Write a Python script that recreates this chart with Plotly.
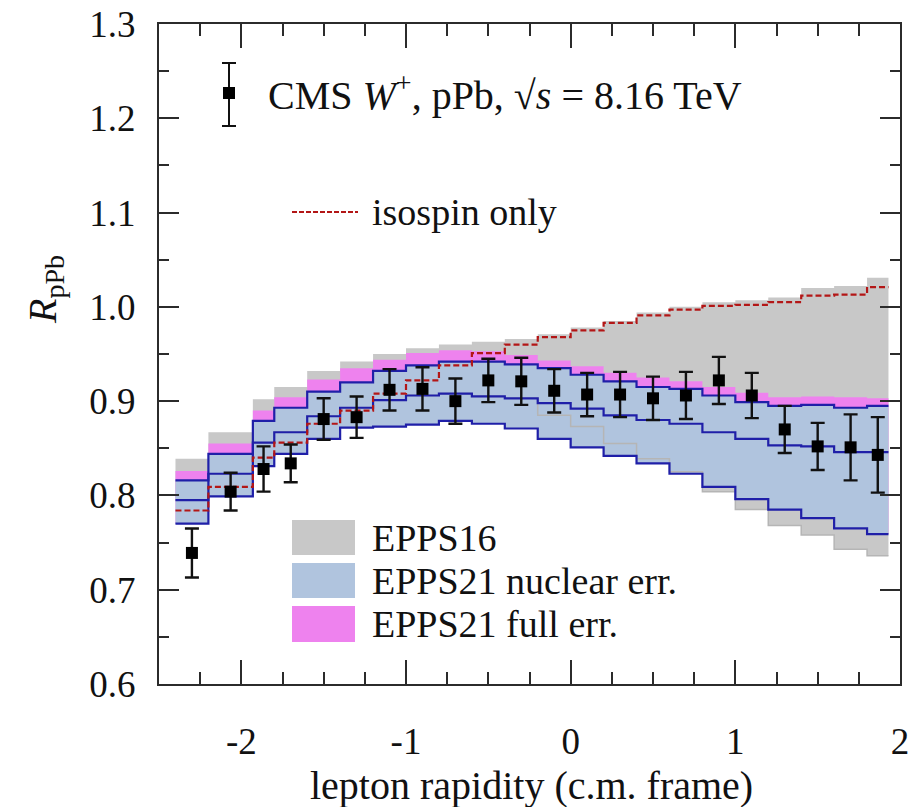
import plotly.graph_objects as go

# ---------------- data ----------------
edges = [-2.4, -2.2, -1.93, -1.8, -1.6, -1.4, -1.2, -1.0, -0.8, -0.6, -0.4, -0.2,
         0.0, 0.2, 0.4, 0.6, 0.8, 1.0, 1.2, 1.4, 1.6, 1.8, 1.93]

cms_x = [-2.3, -2.065, -1.865, -1.7, -1.5, -1.3, -1.1, -0.9, -0.7, -0.5, -0.3, -0.1,
         0.1, 0.3, 0.5, 0.7, 0.9, 1.1, 1.3, 1.5, 1.7, 1.865]
cms_y = [0.739, 0.804, 0.828, 0.834, 0.881, 0.883, 0.912, 0.913, 0.900, 0.922, 0.921, 0.911,
         0.907, 0.907, 0.903, 0.906, 0.922, 0.906, 0.870, 0.852, 0.851, 0.843]
cms_err = [0.026, 0.020, 0.024, 0.020, 0.022, 0.022, 0.022, 0.023, 0.024, 0.023, 0.025, 0.023,
           0.023, 0.024, 0.023, 0.025, 0.025, 0.024, 0.025, 0.025, 0.035, 0.040]

isospin = [0.784, 0.809, 0.840, 0.856, 0.876, 0.890, 0.908, 0.922, 0.938, 0.951, 0.960, 0.968,
           0.975, 0.983, 0.991, 0.997, 1.001, 1.002, 1.005, 1.012, 1.013, 1.021]

epps21_up = [0.816, 0.844, 0.879, 0.893, 0.910, 0.920, 0.932, 0.938, 0.942, 0.942, 0.939, 0.935,
             0.928, 0.921, 0.915, 0.913, 0.906, 0.899, 0.895, 0.896, 0.893, 0.895]
epps21_mid = [0.795, 0.823, 0.856, 0.867, 0.884, 0.893, 0.901, 0.906, 0.908, 0.905, 0.903, 0.898,
              0.892, 0.885, 0.880, 0.876, 0.867, 0.860, 0.853, 0.852, 0.846, 0.846]
epps21_lo = [0.770, 0.799, 0.831, 0.844, 0.860, 0.872, 0.873, 0.875, 0.879, 0.876, 0.871, 0.860,
             0.851, 0.842, 0.834, 0.823, 0.809, 0.796, 0.785, 0.776, 0.765, 0.759]
epps21_full_up = [0.826, 0.855, 0.890, 0.904, 0.923, 0.935, 0.944, 0.951, 0.954, 0.953, 0.949, 0.943,
                  0.937, 0.930, 0.925, 0.921, 0.915, 0.909, 0.904, 0.905, 0.904, 0.903]
epps21_full_lo = [0.770, 0.799, 0.831, 0.844, 0.860, 0.872, 0.873, 0.875, 0.879, 0.876, 0.871, 0.860,
                  0.851, 0.842, 0.834, 0.823, 0.809, 0.796, 0.785, 0.776, 0.765, 0.759]
epps16_up = [0.839, 0.867, 0.902, 0.915, 0.932, 0.942, 0.950, 0.956, 0.960, 0.963, 0.966, 0.971,
             0.978, 0.985, 0.994, 1.000, 1.005, 1.007, 1.010, 1.020, 1.022, 1.031]
epps16_lo = [0.795, 0.823, 0.856, 0.867, 0.884, 0.893, 0.901, 0.906, 0.908, 0.905, 0.903, 0.885,
             0.873, 0.855, 0.839, 0.825, 0.804, 0.785, 0.768, 0.758, 0.743, 0.736]

x_ticks = [-2, -1, 0, 1, 2]
x_ticklabels = ["-2", "-1", "0", "1", "2"]

# ---------------- styles ----------------
FONT = "Liberation Serif, DejaVu Serif, Times New Roman, serif"
FS = 37
GRAY = "#c8c8c8"
BLUEFILL = "#b0c4de"
MAGENTA = "#ee82ee"
DARKBLUE = "#1f1fa8"
RED = "#b31616"
AXC = "#2b2b2b"

W, H = 912, 807
L, R, T, B = 159, 900, 24, 684


def steps(vals):
    xs, ys = [], []
    for i, v in enumerate(vals):
        xs += [edges[i], edges[i + 1]]
        ys += [v, v]
    return xs, ys


def band(up, lo):
    xu, yu = steps(up)
    xl, yl = steps(lo)
    return xu + xl[::-1], yu + yl[::-1]


def px(xp):
    return (xp - L) / (R - L)


def py(yp):
    return (B - yp) / (B - T)


fig = go.Figure()

bx, by = band(epps16_up, epps16_lo)
fig.add_trace(go.Scatter(x=bx, y=by, fill="toself", fillcolor=GRAY, mode="lines",
                         line=dict(width=0), hoverinfo="skip", showlegend=False))
bx, by = band(epps21_full_up, epps21_full_lo)
fig.add_trace(go.Scatter(x=bx, y=by, fill="toself", fillcolor=MAGENTA, mode="lines",
                         line=dict(width=0), hoverinfo="skip", showlegend=False))
bx, by = band(epps21_up, epps21_lo)
fig.add_trace(go.Scatter(x=bx, y=by, fill="toself", fillcolor=BLUEFILL, mode="lines",
                         line=dict(width=0), hoverinfo="skip", showlegend=False))

sx, sy = steps(epps16_lo)
fig.add_trace(go.Scatter(x=sx, y=sy, mode="lines", line=dict(color="#b5b5b5", width=1.5),
                         hoverinfo="skip", showlegend=False))

for arr in (epps21_up, epps21_mid, epps21_lo):
    sx, sy = steps(arr)
    fig.add_trace(go.Scatter(x=sx, y=sy, mode="lines", line=dict(color=DARKBLUE, width=2.2),
                             hoverinfo="skip", showlegend=False))

sx, sy = steps(isospin)
fig.add_trace(go.Scatter(x=sx, y=sy, mode="lines",
                         line=dict(color=RED, width=2.2, dash="6px,3px"),
                         hoverinfo="skip", showlegend=False))

fig.add_trace(go.Scatter(x=cms_x, y=cms_y, mode="markers",
                         marker=dict(symbol="square", size=12, color="black"),
                         error_y=dict(type="data", array=cms_err, color="#111111",
                                      thickness=2.4, width=7),
                         showlegend=False))

axis_common = dict(
    showline=True, linecolor=AXC, linewidth=2, mirror="ticks",
    ticks="inside", tickcolor=AXC, tickwidth=2,
    showgrid=False, zeroline=False, automargin=False,
    tickfont=dict(family=FONT, size=FS, color="#111111"),
)

fig.update_xaxes(range=[-2.5, 2], tickvals=x_ticks, ticktext=x_ticklabels, ticklen=24,
                 minor=dict(dtick=0.25, ticks="inside", ticklen=12, tickwidth=2,
                            tickcolor=AXC, showgrid=False),
                 ticklabelstandoff=24, **axis_common)
fig.update_yaxes(range=[0.6, 1.3], dtick=0.1, tick0=0.6, tickformat=".1f", ticklen=20,
                 minor=dict(dtick=0.05, ticks="inside", ticklen=10, tickwidth=2,
                            tickcolor=AXC, showgrid=False),
                 ticklabelstandoff=14, **axis_common)

shapes = []
annotations = []
tf = dict(family=FONT, size=38, color="#111111")

# axis titles
annotations.append(dict(text="lepton rapidity (c.m. frame)", xref="paper", yref="paper",
                        x=px(531), y=py(785), xanchor="center", yanchor="middle",
                        showarrow=False, font=dict(family=FONT, size=40, color="#111111")))
annotations.append(dict(text="<i>R</i><sub>pPb</sub>", xref="paper", yref="paper",
                        x=px(45), y=py(290), xanchor="center", yanchor="middle",
                        textangle=-90, showarrow=False,
                        font=dict(family=FONT, size=40, color="#111111")))

# CMS legend entry
shapes.append(dict(type="line", xref="paper", yref="paper", x0=px(229), x1=px(229),
                   y0=py(63), y1=py(126), line=dict(color="#111111", width=2)))
for yy in (63, 126):
    shapes.append(dict(type="line", xref="paper", yref="paper", x0=px(222), x1=px(236),
                       y0=py(yy), y1=py(yy), line=dict(color="#111111", width=2)))
shapes.append(dict(type="rect", xref="paper", yref="paper", x0=px(223), x1=px(235),
                   y0=py(87), y1=py(99), fillcolor="black", line=dict(width=0)))
annotations.append(dict(text="CMS <i>W</i><sup>+</sup>, pPb, √<i>s</i> = 8.16 TeV",
                        xref="paper", yref="paper", x=px(266), y=py(93),
                        xanchor="left", yanchor="middle", showarrow=False,
                        font=dict(family=FONT, size=40, color="#111111")))

# isospin legend entry
shapes.append(dict(type="line", xref="paper", yref="paper", x0=px(292), x1=px(358),
                   y0=py(212), y1=py(212), line=dict(color=RED, width=2, dash="5px,2px")))
annotations.append(dict(text="isospin only", xref="paper", yref="paper", x=px(370), y=py(212),
                        xanchor="left", yanchor="middle", showarrow=False, font=tf))

# band legend entries
for (y0, y1, col, lab) in [(520, 555, GRAY, "EPPS16"),
                           (563, 598, BLUEFILL, "EPPS21 nuclear err."),
                           (606, 642, MAGENTA, "EPPS21 full err.")]:
    shapes.append(dict(type="rect", xref="paper", yref="paper", x0=px(292), x1=px(355),
                       y0=py(y1), y1=py(y0), fillcolor=col, line=dict(width=0)))
    annotations.append(dict(text=lab, xref="paper", yref="paper", x=px(370),
                            y=py((y0 + y1) / 2), xanchor="left", yanchor="middle",
                            showarrow=False, font=tf))

fig.update_layout(
    width=W, height=H,
    margin=dict(l=L, r=W - R, t=T, b=H - B, autoexpand=False),
    paper_bgcolor="white", plot_bgcolor="white",
    shapes=shapes, annotations=annotations,
    showlegend=False,
)

fig.write_html("out.html", config={"displayModeBar": False},
               post_script="document.body.style.margin='0px';document.body.style.padding='0px';"
                           "document.body.style.overflow='hidden';")
